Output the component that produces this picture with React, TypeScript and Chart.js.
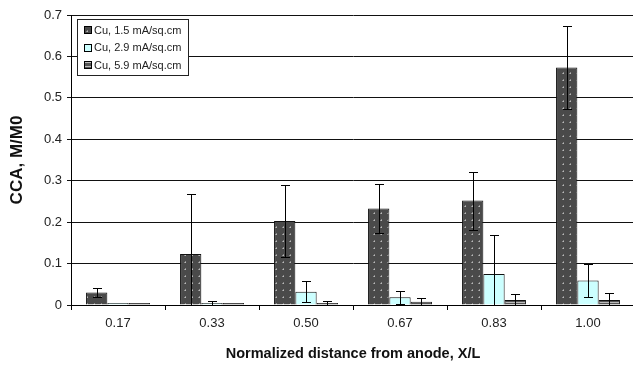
import React, { useEffect, useRef } from 'react';
import { Chart, registerables } from 'chart.js';
Chart.register(...registerables);

const categories = ['0.17', '0.33', '0.50', '0.67', '0.83', '1.00'];
const seriesLabels = ['Cu, 1.5 mA/sq.cm', 'Cu, 2.9 mA/sq.cm', 'Cu, 5.9 mA/sq.cm'];
const cu15 = [0.030, 0.123, 0.203, 0.233, 0.252, 0.573];
const cu15Err = [0.010, 0.145, 0.087, 0.060, 0.070, 0.100];
const cu29 = [0.003, 0.005, 0.032, 0.019, 0.075, 0.059];
const cu29Err = [0.000, 0.005, 0.025, 0.016, 0.095, 0.039];
const cu59 = [0.002, 0.003, 0.004, 0.008, 0.012, 0.012];
const cu59Err = [0.000, 0.000, 0.006, 0.009, 0.015, 0.016];
const yTickValues = [0, 0.1, 0.2, 0.3, 0.4, 0.5, 0.6, 0.7];
const xTitle = 'Normalized distance from anode, X/L';
const yTitle = 'CCA, M/M0';

const errors = [cu15Err, cu29Err, cu59Err];

function dotPattern(): CanvasPattern | string {
  const c = document.createElement('canvas');
  c.width = 7;
  c.height = 7;
  const g = c.getContext('2d');
  if (!g) return '#4d4d4d';
  g.fillStyle = '#4a4a4a';
  g.fillRect(0, 0, 7, 7);
  g.fillStyle = '#b8b8b8';
  g.fillRect(3, 3, 1, 1);
  g.fillStyle = '#8a8a8a';
  g.fillRect(2, 3, 1, 1);
  g.fillRect(3, 2, 1, 1);
  return g.createPattern(c, 'repeat') || '#4d4d4d';
}

function stripePattern(): CanvasPattern | string {
  const c = document.createElement('canvas');
  c.width = 4;
  c.height = 4;
  const g = c.getContext('2d');
  if (!g) return '#555';
  g.fillStyle = '#555555';
  g.fillRect(0, 0, 4, 4);
  g.fillStyle = '#bbbbbb';
  g.fillRect(0, 2, 4, 1);
  return g.createPattern(c, 'repeat') || '#555';
}

const errorBarPlugin = {
  id: 'errorBars',
  afterDatasetsDraw(chart: any) {
    const ctx = chart.ctx;
    const area = chart.chartArea;
    const y = chart.scales.y;
    ctx.save();
    ctx.beginPath();
    ctx.rect(area.left, area.top - 1, area.right - area.left, area.bottom - area.top + 1);
    ctx.clip();
    ctx.strokeStyle = '#000';
    ctx.lineWidth = 1;
    chart.data.datasets.forEach((ds: any, di: number) => {
      const meta = chart.getDatasetMeta(di);
      meta.data.forEach((bar: any, i: number) => {
        const e = errors[di][i];
        if (!e) return;
        const v = ds.data[i];
        const x = Math.round(bar.x) + 0.5;
        const top = Math.round(y.getPixelForValue(v + e)) + 0.5;
        const bot = Math.round(y.getPixelForValue(v - e)) + 0.5;
        const cap = 4.5;
        ctx.beginPath();
        ctx.moveTo(x, top);
        ctx.lineTo(x, bot);
        ctx.moveTo(x - cap, top);
        ctx.lineTo(x + cap, top);
        if (v - e >= 0) {
          ctx.moveTo(x - cap, bot);
          ctx.lineTo(x + cap, bot);
        }
        ctx.stroke();
      });
    });
    ctx.restore();
  },
};

const legendPlugin = {
  id: 'boxLegend',
  afterDraw(chart: any) {
    const ctx = chart.ctx;
    const x0 = 77, y0 = 19, w = 111, h = 56;
    ctx.save();
    ctx.fillStyle = '#ffffff';
    ctx.fillRect(x0, y0, w, h);
    ctx.strokeStyle = '#222';
    ctx.lineWidth = 1;
    ctx.strokeRect(x0 + 0.5, y0 + 0.5, w, h);
    ctx.font = '11px "Liberation Sans", Arial, sans-serif';
    ctx.textBaseline = 'middle';
    chart.data.datasets.forEach((ds: any, i: number) => {
      const cy = y0 + 11 + i * 17.5;
      ctx.fillStyle = ds.backgroundColor;
      ctx.fillRect(x0 + 7, Math.round(cy) - 4, 8, 8);
      ctx.strokeStyle = '#000';
      ctx.strokeRect(x0 + 7.5, Math.round(cy) - 3.5, 7, 7);
      ctx.fillStyle = '#222';
      ctx.fillText(ds.label, x0 + 17, cy + 0.5);
    });
    ctx.restore();
  },
};

export default function App() {
  const ref = useRef<HTMLCanvasElement>(null);
  useEffect(() => {
    document.body.style.margin = '0';
    document.body.style.overflow = 'hidden';
    if (!ref.current) return;
    const font = '"Liberation Sans", Arial, sans-serif';
    const chart = new Chart(ref.current, {
      type: 'bar',
      data: {
        labels: categories,
        datasets: [
          { label: seriesLabels[0], data: cu15, backgroundColor: dotPattern() as any, borderColor: '#111', borderWidth: 1 },
          { label: seriesLabels[1], data: cu29, backgroundColor: '#ccffff', borderColor: '#111', borderWidth: 1 },
          { label: seriesLabels[2], data: cu59, backgroundColor: stripePattern() as any, borderColor: '#111', borderWidth: 1 },
        ],
      },
      options: {
        responsive: false,
        animation: false,
        layout: { padding: { top: 15, right: 5, left: 0, bottom: 0 } },
        datasets: { bar: { categoryPercentage: 0.68, barPercentage: 1, minBarLength: 2 } },
        plugins: { legend: { display: false }, tooltip: { enabled: false } },
        scales: {
          x: {
            offset: true,
            grid: { offset: true, drawOnChartArea: false, color: '#000', tickLength: 5 },
            border: { color: '#000', width: 1 },
            ticks: { color: '#222', font: { family: font, size: 13 }, padding: 6 },
            title: { display: true, text: xTitle, color: '#111', font: { family: font, size: 14.5, weight: 'bold' }, padding: { top: 10, bottom: 6 } },
            afterFit: (s: any) => { s.height = 64; },
          },
          y: {
            min: 0,
            max: 0.7,
            afterBuildTicks: (s: any) => { s.ticks = yTickValues.map((v) => ({ value: v })); },
            grid: { color: '#111', tickLength: 4 },
            border: { color: '#000', width: 1 },
            ticks: { color: '#222', font: { family: font, size: 13 }, padding: 5, callback: (v: any) => String(v) },
            title: { display: true, text: yTitle, color: '#111', font: { family: font, size: 17, weight: 'bold' }, padding: { top: 7, bottom: 10 } },
            afterFit: (s: any) => { s.width = 71; },
          },
        },
      },
      plugins: [errorBarPlugin, legendPlugin],
    });
    return () => chart.destroy();
  }, []);
  return (
    <div style={{ width: 633, height: 369, overflow: 'hidden', position: 'relative' }}>
      <canvas ref={ref} width={640} height={369} style={{ display: 'block' }} />
    </div>
  );
}
